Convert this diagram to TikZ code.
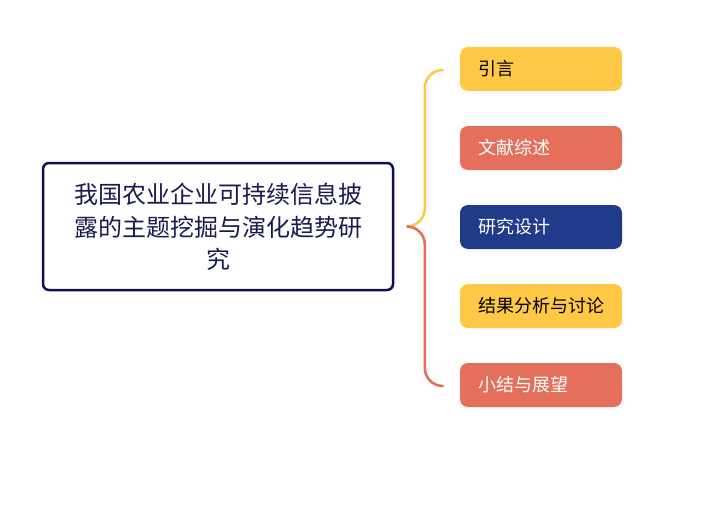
\documentclass[tikz,border=0pt]{standalone}
\usepackage{fontspec}
\setmainfont{Noto Sans CJK SC}
\definecolor{cyellow}{HTML}{FFC845}
\definecolor{cred}{HTML}{E46F5A}
\definecolor{cnavy}{HTML}{1F3B8A}
\definecolor{cborder}{HTML}{0E0E55}
\definecolor{ctext}{HTML}{1A1A50}
\begin{document}
\begin{tikzpicture}[x=1pt,y=-1pt,
  topic/.style={draw=cborder,line width=2.5pt,rounded corners=6pt,fill=white,
    minimum width=350pt,minimum height=127pt,inner sep=0pt,align=center,
    text=ctext,font=\fontsize{24}{32.5}\selectfont},
  sub/.style={rounded corners=8pt,minimum width=162pt,minimum height=44pt,
    inner sep=0pt,text width=126pt,align=left,font=\fontsize{18}{20}\selectfont},
  brace/.style={line width=2.6pt,rounded corners=18pt,line cap=round}]
\useasboundingbox (0,0) rectangle (706,524);
\node[topic] (main) at (218,226.5) {\raisebox{-3pt}[\height][\depth]{\begin{tabular}{@{}c@{}}我国农业企业可持续信息披\\露的主题挖掘与演化趋势研\\究\end{tabular}}};
\node[sub,fill=cyellow,text=black] (n1) at (541,69) {\raisebox{-1pt}{引言}};
\node[sub,fill=cred,text=white] (n2) at (541,148) {\raisebox{-1pt}{文献综述}};
\node[sub,fill=cnavy,text=white] (n3) at (541,227) {\raisebox{-1pt}{研究设计}};
\node[sub,fill=cyellow,text=black] (n4) at (541,306) {\raisebox{-1pt}{结果分析与讨论}};
\node[sub,fill=cred,text=white] (n5) at (541,385) {\raisebox{-1pt}{小结与展望}};
\coordinate (j) at ([xshift=14pt]main.east);
\draw[brace,cyellow] (j) -| ([xshift=-35pt,yshift=-1pt]n1.west) -- ([xshift=-17pt,yshift=-1pt]n1.west);
\draw[brace,cred] (j) -| ([xshift=-35pt,yshift=-1pt]n5.west) -- ([xshift=-17pt,yshift=-1pt]n5.west);
\end{tikzpicture}
\end{document}
